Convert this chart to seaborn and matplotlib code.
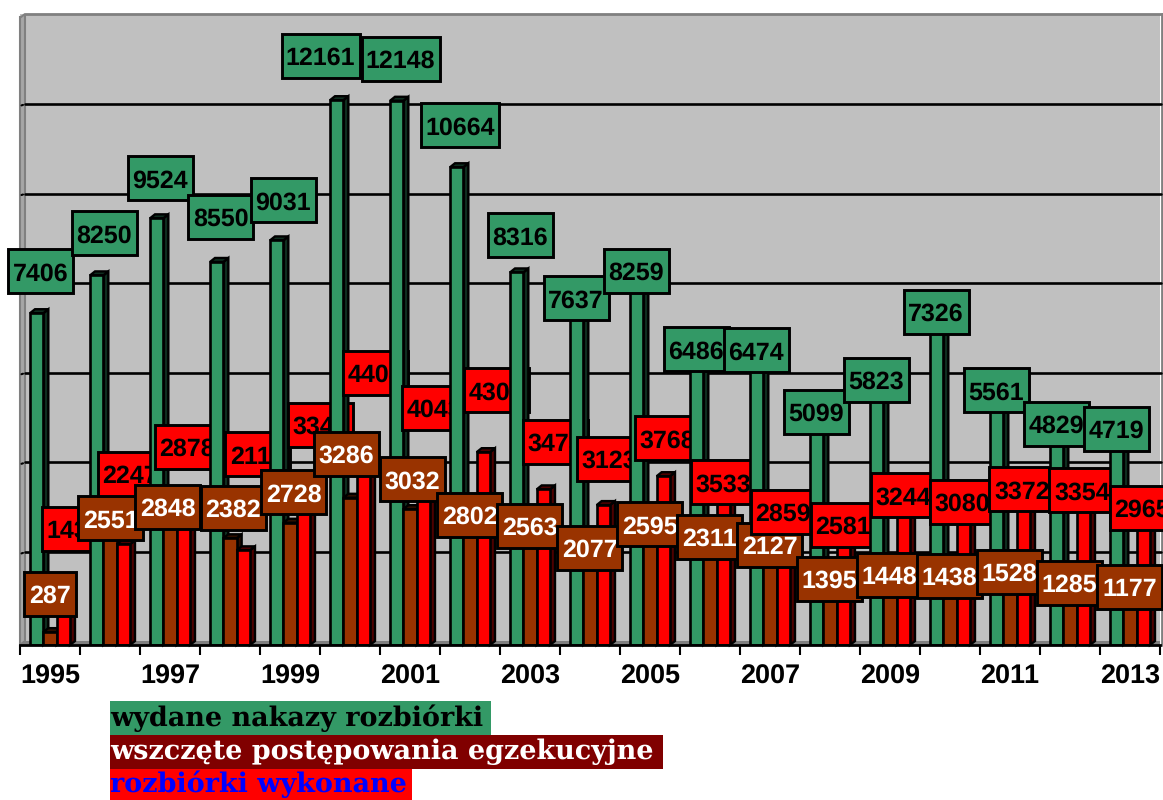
from __future__ import annotations

import matplotlib
matplotlib.use("Agg")
import matplotlib.pyplot as plt
import numpy as np
import pandas as pd
import seaborn as sns
from matplotlib.lines import Line2D
from matplotlib.patches import Polygon, Rectangle
from matplotlib.transforms import IdentityTransform

years = [str(y) for y in range(1995, 2014)]
orders_issued = [7406, 8250, 9524, 8550, 9031, 12161, 12148, 10664, 8316, 7637,
	8259, 6486, 6474, 5099, 5823, 7326, 5561, 4829, 4719]
proceedings = [287, 2551, 2848, 2382, 2728, 3286, 3032, 2802, 2563, 2077,
	2595, 2311, 2127, 1395, 1448, 1438, 1528, 1285, 1177]
demolished = [1437, 2247, 2878, 2113, 3345, 4408, 4043, 4304, 3473, 3123,
	3768, 3533, 2859, 2581, 3244, 3080, 3372, 3354, 2965]
series_names = ["wydane nakazy rozbiórki", "wszczęte postępowania egzekucyjne", "rozbiórki wykonane"]
grid_values = [2000, 4000, 6000, 8000, 10000, 12000]

# label placement, pixels from the top of each bar
green_dx = [4, 7.5, 3.5, 4, 6.5, -16, 4, 3.5, 3.5, -.5, -.5, -.5, -.5, -.5, -.5, -.5, -.5, -.5, -.5]
green_dy = [42, 42, 40, 45, 40, 44, 42, 42, 37, 4.5, 4.5, 5, 4.5, 5, 4.5, 5, 5.5, 5, 5]
brown_dx = [0, .5, -2.5, 3, 3.5, -4, 2.5, -.5, -.5, -.5, -.5, -.5, -.5, -.5, -.5, -.5, -.5, -.5, -.5]
brown_dy = [38.5, 12.5, 10.5, 30.5, 30.5, 44, 30, 4.5, 4.5, 4, 4.5, 4.5, 4.5, 4, 5, 4.5, 4.5, 4.5, 5]
red_dx = [11, 7, 4, 14, 17, 12.5, 11, 13, 12, 6, 4, 0, 0, 0, 0, -1, -1.5, -1.5, -1]
red_dy = [51.5, 70.5, 69.5, 96, 70, 75, 56, 62, 47.5, 46, 38, 4.5, 5, 4.5, 4.5, 5, 4.5, 4.5, 4.5]

GREEN = "#339966"
BROWN = "#993300"
RED = "#FF0000"
DARK_RED = "#800000"
WALL = "#C0C0C0"
SHADE = "#808080"
FONT = "Liberation Sans"

W, H = 1163, 800
px = IdentityTransform()


def darker(color: str) -> tuple:
	r, g, b = matplotlib.colors.to_rgb(color)
	return (r * 0.3, g * 0.3, b * 0.3)


def add_depth(ax, bar, color, zorder) -> None:
	x0, y0 = ax.transData.transform((bar.get_x(), 0))
	x1, y1 = ax.transData.transform((bar.get_x() + bar.get_width(), bar.get_height()))
	side = [(x1, y0), (x1 + 5, y0 + 4), (x1 + 5, y1 + 4), (x1, y1)]
	top = [(x0, y1), (x0 + 5, y1 + 4), (x1 + 5, y1 + 4), (x1, y1)]
	for pts in (side, top):
		ax.add_patch(Polygon(pts, closed=True, transform=px, facecolor=darker(color),
			edgecolor="black", linewidth=1.7, zorder=zorder, clip_on=False))


def add_label(ax, bar, value, dx, dy, face, text_color, zorder) -> None:
	"""Boxed value placed relative to the top of its bar."""
	x, y = ax.transData.transform((bar.get_x() + bar.get_width() / 2, value))
	cx, cy = x + dx, y + dy
	text = str(value)
	w = 13 * len(text) + 13
	ax.add_patch(Rectangle((cx - w / 2, cy - 22), w, 44, transform=px, facecolor=face,
		edgecolor="black", linewidth=2.1, zorder=zorder, clip_on=False))
	ax.text(cx, cy, text, transform=px, ha="center", va="center_baseline", color=text_color,
		fontsize=17.8, fontweight="bold", family=FONT, zorder=zorder + 0.01, clip_on=False)


sns.set_theme(style="white")
plt.rcParams["font.family"] = [FONT, "DejaVu Sans"]
plt.rcParams["text.hinting"] = "no_hinting"
plt.rcParams["text.hinting_factor"] = 1

df = pd.DataFrame({"year": years, series_names[0]: orders_issued,
	series_names[1]: proceedings, series_names[2]: demolished})
long_df = df.melt(id_vars="year", var_name="series", value_name="value")

fig = plt.figure(figsize=(W / 100, H / 100), dpi=100, facecolor="white")
ax = fig.add_axes([20 / W, (H - 645) / H, 1140 / W, 631 / H], facecolor=WALL)

sns.barplot(data=long_df, x="year", y="value", hue="series", hue_order=series_names,
	palette=[GREEN, BROWN, RED], width=40 / 60, gap=0, saturation=1, legend=False,
	edgecolor="black", linewidth=1.9, ax=ax)
ax.set_xlim(-0.5, 18.5)
ax.set_ylim(0, 14085)
ax.set_xlabel("")
ax.set_ylabel("")
ax.set_yticks([])

for name in ("top", "left", "right"):
	ax.spines[name].set_visible(False)
ax.spines["bottom"].set_color("black")
ax.spines["bottom"].set_linewidth(2)
ax.spines["bottom"].set_zorder(600)

ax.set_xticks(np.arange(-0.5, 19, 1))
ax.set_xticklabels([])
ax.set_xticks(np.arange(0, 19, 2), labels=years[::2], minor=True)
ax.tick_params(axis="x", which="major", length=7.5, width=1.5, color="black", bottom=True)
ax.tick_params(axis="x", which="minor", length=0, pad=14, labelsize=19.5)
for tick in ax.get_xticklabels(minor=True):
	tick.set_fontweight("bold")
	tick.set_color("black")

# back wall, side wall and floor
left, bottom = ax.transData.transform((-0.5, 0))
right, top = ax.transData.transform((18.5, 14085))
ax.add_patch(Polygon([(left, bottom), (left + 5, bottom + 4), (left + 5, top), (left + 1, top - 3), (left, top - 3)],
	closed=True, transform=px, facecolor="#A6A6A6", edgecolor=SHADE, linewidth=1.5, zorder=1.5, clip_on=False))
ax.add_patch(Polygon([(left, bottom), (left + 5, bottom + 4), (right, bottom + 4), (right, bottom)],
	closed=True, transform=px, facecolor=SHADE, edgecolor="none", zorder=1.5, clip_on=False))
ax.add_line(Line2D([left + 5, W], [top, top], transform=px, color=SHADE, linewidth=2, zorder=1.5, clip_on=False))
ax.add_line(Line2D([right + 2, right + 2], [bottom, top], transform=px, color=SHADE, linewidth=2, zorder=1.5, clip_on=False))

for value in grid_values:
	_, gy = ax.transData.transform((0, value))
	ax.add_line(Line2D([left + 5, right + 1], [gy + 3.4, gy + 3.4], transform=px, color="black",
		linewidth=1.9, zorder=1.6, clip_on=False))
	ax.add_line(Line2D([left + 1.5, left + 3], [gy + 2, gy + 2.5], transform=px, color="black",
		linewidth=1.5, zorder=1.6, clip_on=False))

# drawn year by year: a later green bar hides the end of an earlier red label
green_bars, brown_bars, red_bars = ax.containers
for i in range(len(years)):
	base = 10 + 10 * i
	for k, (bars, color) in enumerate(zip((green_bars, brown_bars, red_bars), (GREEN, BROWN, RED))):
		bars[i].set_zorder(base + k + 0.5)
		add_depth(ax, bars[i], color, base + k)
	add_label(ax, brown_bars[i], proceedings[i], brown_dx[i], brown_dy[i], BROWN, "white", base + 4)
	add_label(ax, red_bars[i], demolished[i], red_dx[i], red_dy[i], RED, "black", base + 5)
	add_label(ax, green_bars[i], orders_issued[i], green_dx[i], green_dy[i], GREEN, "black", 400 + i)

# legend rows under the axis
legend_rows = [
	(series_names[0], GREEN, "black", 701, 34, 381),
	(series_names[1], DARK_RED, "white", 735, 34, 553),
	(series_names[2], RED, "#0000FF", 769, 31, 302),
]
for label, face, text_color, row_top, row_h, row_w in legend_rows:
	fig.add_artist(Rectangle((110, H - row_top - row_h), row_w, row_h, transform=px, facecolor=face, edgecolor="none"))
	fig.text(110 / W, (H - row_top - row_h / 2) / H, label, ha="left", va="center", color=text_color,
		fontsize=19.4, fontweight="bold", family="DejaVu Serif")

fig.savefig("out.png", dpi=100, facecolor="white")
